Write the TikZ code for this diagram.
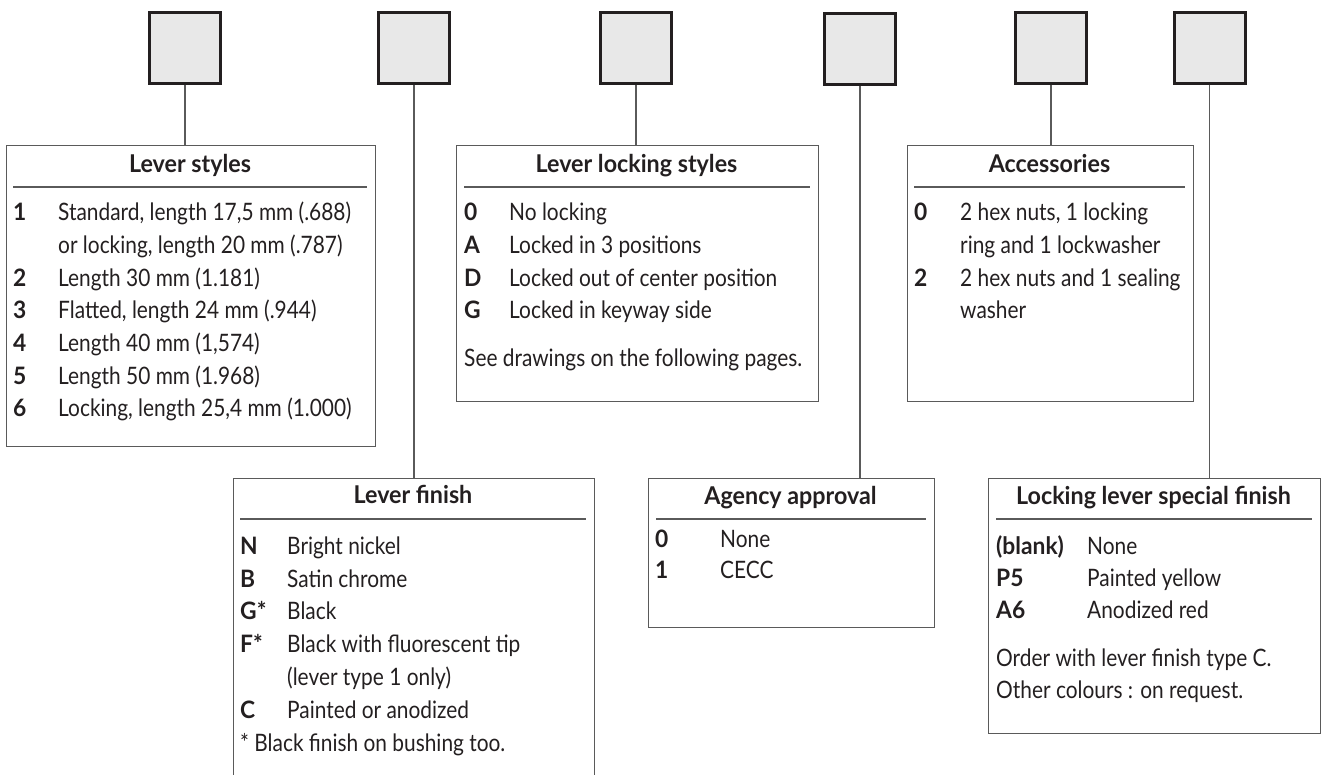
\documentclass[tikz,border=0pt]{standalone}
\usepackage{fontspec}
\setmainfont{Lato}[FakeStretch=0.87, BoldFeatures={FakeStretch=0.95}]
\definecolor{sqfill}{HTML}{E8E8E8}
\definecolor{sqline}{HTML}{231F20}
\definecolor{boxline}{HTML}{5A5A5A}
\definecolor{ink}{HTML}{231F20}
\begin{document}
\begin{tikzpicture}[x=1pt,y=-1pt,
  sq/.style={draw=sqline, fill=sqfill, line width=3pt, minimum width=71pt, minimum height=71pt, inner sep=0pt},
  panel/.style={draw=boxline, line width=1.3pt, inner sep=0pt, anchor=north west},
  conn/.style={draw=boxline, line width=1.3pt},
  sepline/.style={draw=boxline, line width=1.3pt},
  ttl/.style={font=\fontsize{24.5}{28}\selectfont\bfseries, text=ink, anchor=base, inner sep=0pt},
  key/.style={font=\fontsize{24}{28}\selectfont\bfseries, text=ink, anchor=base west, inner sep=0pt},
  txt/.style={font=\fontsize{24}{28}\selectfont, text=ink, anchor=base west, inner sep=0pt},
]
\useasboundingbox (0,0) rectangle (1328,774);
\clip (0,0) rectangle (1328,774);

% top squares
\node[sq] (sq1) at (185,47.5) {};
\node[sq] (sq2) at (414,47.5) {};
\node[sq] (sq3) at (636,47.5) {};
\node[sq] (sq4) at (860,49) {};
\node[sq] (sq5) at (1051,47.5) {};
\node[sq] (sq6) at (1209.5,47.5) {};

% panels
\node[panel, minimum width=369pt, minimum height=301pt] (ls) at (5.5,144.5) {};
\node[panel, minimum width=362pt, minimum height=256pt] (lls) at (455.5,144.5) {};
\node[panel, minimum width=286pt, minimum height=256pt] (acc) at (906.5,144.5) {};
\node[panel, minimum width=361pt, minimum height=340pt] (lf) at (232.5,477.5) {};
\node[panel, minimum width=286pt, minimum height=149pt] (ag) at (647.5,477.5) {};
\node[panel, minimum width=332pt, minimum height=255.5pt] (sp) at (987.5,477.5) {};

% connectors
\draw[conn] (sq1.south) -- (sq1.south |- ls.north);
\draw[conn] (sq2.south) -- (sq2.south |- lf.north);
\draw[conn] (sq3.south) -- (sq3.south |- lls.north);
\draw[conn] (sq4.south) -- (sq4.south |- ag.north);
\draw[conn] (sq5.south) -- (sq5.south |- acc.north);
\draw[conn] (sq6.south) -- (sq6.south |- sp.north);

% separators
\draw[sepline] (13,187) -- (367,187);
\draw[sepline] (464,187) -- (810,187);
\draw[sepline] (914,187) -- (1185,187);
\draw[sepline] (240,519) -- (586,519);
\draw[sepline] (656,519) -- (926,519);
\draw[sepline] (996,519) -- (1312,519);

% Lever styles
\node[ttl] (lsT) at (190,172) {Lever styles};
\node[key] (ls1k) at (13,220) {1};
\node[txt] (ls1t) at (58,220) {Standard, length 17,5 mm (.688)};
\node[txt] (ls1u) at (58,253) {or locking, length 20 mm (.787)};
\node[key] (ls2k) at (13,286) {2};
\node[txt] (ls2t) at (58,286) {Length 30 mm (1.181)};
\node[key] (ls3k) at (13,318.5) {3};
\node[txt] (ls3t) at (58,318.5) {Flatted, length 24 mm (.944)};
\node[key] (ls4k) at (13,351) {4};
\node[txt] (ls4t) at (58,351) {Length 40 mm (1,574)};
\node[key] (ls5k) at (13,384) {5};
\node[txt] (ls5t) at (58,384) {Length 50 mm (1.968)};
\node[key] (ls6k) at (13,416.5) {6};
\node[txt] (ls6t) at (58,416.5) {Locking, length 25,4 mm (1.000)};

% Lever locking styles
\node[ttl] (llsT) at (636.5,172) {Lever locking styles};
\node[key] (lls0k) at (464,220) {0};
\node[txt] (lls0t) at (509,220) {No locking};
\node[key] (llsAk) at (464,253) {A};
\node[txt] (llsAt) at (509,253) {Locked in 3 positions};
\node[key] (llsDk) at (464,286) {D};
\node[txt] (llsDt) at (509,286) {Locked out of center position};
\node[key] (llsGk) at (464,318.5) {G};
\node[txt] (llsGt) at (509,318.5) {Locked in keyway side};
\node[txt] (llsN) at (464,366) {See drawings on the following pages.};

% Accessories
\node[ttl] (accT) at (1049.5,172) {Accessories};
\node[key] (acc0k) at (914,220) {0};
\node[txt] (acc0t) at (960,220) {2 hex nuts, 1 locking};
\node[txt] (acc0u) at (960,253) {ring and 1 lockwasher};
\node[key] (acc2k) at (914,286) {2};
\node[txt] (acc2t) at (960,286) {2 hex nuts and 1 sealing};
\node[txt] (acc2u) at (960,318.5) {washer};

% Lever finish
\node[ttl] (lfT) at (413,503.5) {Lever finish};
\node[key] (lfNk) at (240,554) {N};
\node[txt] (lfNt) at (287,554) {Bright nickel};
\node[key] (lfBk) at (240,587) {B};
\node[txt] (lfBt) at (287,587) {Satin chrome};
\node[key] (lfGk) at (240,619.5) {G*};
\node[txt] (lfGt) at (287,619.5) {Black};
\node[key] (lfFk) at (240,652) {F*};
\node[txt] (lfFt) at (287,652) {Black with fluorescent tip};
\node[txt] (lfFu) at (287,685) {(lever type 1 only)};
\node[key] (lfCk) at (240,718) {C};
\node[txt] (lfCt) at (287,718) {Painted or anodized};
\node[txt] (lfN) at (240,751) {* Black finish on bushing too.};

% Agency approval
\node[ttl] (agT) at (790.5,504) {Agency approval};
\node[key] (ag0k) at (655,547) {0};
\node[txt] (ag0t) at (720,547) {None};
\node[key] (ag1k) at (655,578) {1};
\node[txt] (ag1t) at (720,578) {CECC};

% Locking lever special finish
\node[ttl] (spT) at (1153.5,504) {Locking lever special finish};
\node[key] (spBk) at (996,554) {(blank)};
\node[txt] (spBt) at (1087,554) {None};
\node[key] (spPk) at (996,586) {P5};
\node[txt] (spPt) at (1087,586) {Painted yellow};
\node[key] (spAk) at (996,618) {A6};
\node[txt] (spAt) at (1087,618) {Anodized red};
\node[txt] (spO) at (996,666) {Order with lever finish type C.};
\node[txt] (spR) at (996,698) {Other colours : on request.};
\end{tikzpicture}
\end{document}
